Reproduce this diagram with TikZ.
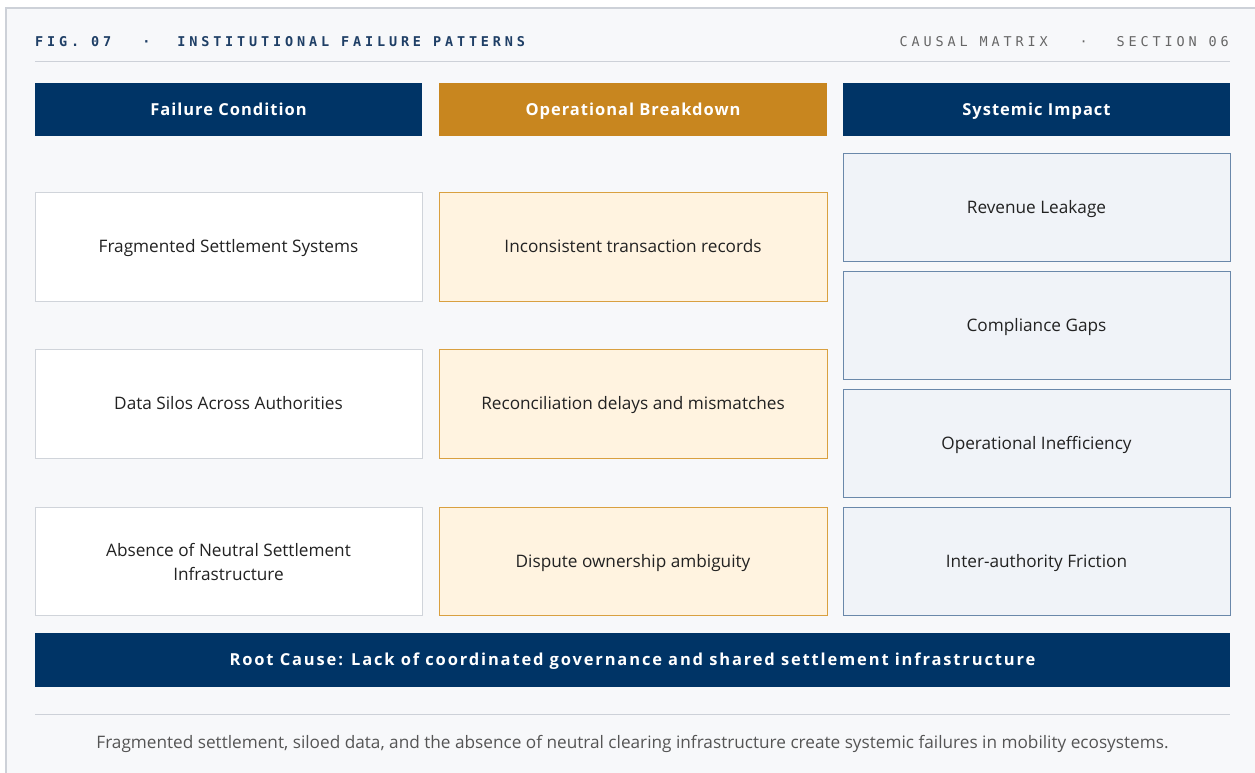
\documentclass[tikz,border=0pt]{standalone}
\usepackage{fontspec}
\setmainfont{Open Sans}
\newfontfamily\monob[LetterSpace=28.5]{DejaVu Sans Mono}
\newfontfamily\hdrfont[LetterSpace=6]{Open Sans}
\newfontfamily\rootfont[LetterSpace=11.2]{Open Sans}
\definecolor{navy}{RGB}{0,52,102}
\definecolor{gold}{RGB}{200,134,31}
\definecolor{bgc}{RGB}{247,248,250}
\definecolor{framec}{RGB}{205,209,216}
\definecolor{goldfill}{RGB}{255,243,224}
\definecolor{goldline}{RGB}{217,160,64}
\definecolor{bluefill}{RGB}{240,243,248}
\definecolor{blueline}{RGB}{106,136,170}
\definecolor{greyline}{RGB}{208,212,218}
\definecolor{txt}{RGB}{34,34,34}
\definecolor{titleblue}{RGB}{31,63,102}
\definecolor{subgrey}{RGB}{102,102,102}
\definecolor{footgrey}{RGB}{85,85,85}
\tikzset{
  hdrbox/.style={minimum height=53pt, inner sep=0pt, text=white, text height=11.8pt, text depth=0pt, font=\hdrfont\bfseries\fontsize{16.5}{18}\selectfont},
  cellbase/.style={draw, line width=1pt, minimum height=108pt, inner sep=0pt, text=txt, align=center, font=\fontsize{17.2}{24}\selectfont},
  cellbox/.style={cellbase, text height=12.3pt, text depth=0pt},
  failbox/.style={fill=white, draw=greyline, minimum width=387pt},
  opbox/.style={cellbox, fill=goldfill, draw=goldline, minimum width=388pt},
  impbox/.style={cellbox, fill=bluefill, draw=blueline, minimum width=387pt},
  rule/.style={draw=framec, line width=1pt}
}
\begin{document}
\begin{tikzpicture}[x=1pt,y=-1pt]
\useasboundingbox (0,0) rectangle (1255,773);
\fill[white] (0,0) rectangle (1255,773);
\draw[fill=bgc, draw=framec, line width=2pt] (6,8) rectangle (1262,782);
% title
\node[anchor=base west, inner sep=0pt, text=titleblue, font=\monob\bfseries\fontsize{13.5}{16}\selectfont] (title) at (35,47) {FIG. 07\ \ \hspace{7pt}·\ \ \hspace{3pt}INSTITUTIONAL FAILURE PATTERNS};
\node[anchor=base east, inner sep=0pt, text=subgrey, font=\monob\fontsize{13.5}{16}\selectfont] (section) at (1229,47) {CAUSAL MATRIX\ \ \hspace{8pt}·\ \ \hspace{5pt}SECTION 06};
\coordinate (r1a) at (35,62); \coordinate (r1b) at (1230,62);
\draw[rule] (r1a) -- (r1b);
% headers
\node[hdrbox, fill=navy, minimum width=387pt] (h1) at (228.5,109.5) {Failure Condition};
\node[hdrbox, fill=gold, minimum width=388pt] (h2) at (633,109.5) {Operational Breakdown};
\node[hdrbox, fill=navy, minimum width=387pt] (h3) at (1036.5,109.5) {Systemic Impact};
% column 1
\node[cellbox, failbox, minimum height=109pt] (f1) at (228.5,246.5) {Fragmented Settlement Systems};
\node[cellbox, failbox, minimum height=109pt] (f2) at (228.5,403.5) {Data Silos Across Authorities};
\node[cellbase, failbox] (f3) at (228.5,561.5) {Absence of Neutral Settlement\\Infrastructure};
% column 2
\node[opbox, minimum height=109pt] (o1) at (633,246.5) {Inconsistent transaction records};
\node[opbox, minimum height=109pt] (o2) at (633,403.5) {Reconciliation delays and mismatches};
\node[opbox] (o3) at (633,561) {Dispute ownership ambiguity};
% column 3
\node[impbox] (i1) at (1036.5,207) {Revenue Leakage};
\node[impbox] (i2) at (1036.5,325) {Compliance Gaps};
\node[impbox] (i3) at (1036.5,443) {Operational Inefficiency};
\node[impbox] (i4) at (1036.5,561) {Inter-authority Friction};
% root cause
\node[hdrbox, fill=navy, minimum width=1195pt, minimum height=54pt, font=\rootfont\bfseries\fontsize{16.5}{18}\selectfont] (root) at (632.5,660) {Root Cause: Lack of coordinated governance and shared settlement infrastructure};
% footer
\coordinate (r2a) at (35,714); \coordinate (r2b) at (1230,714);
\draw[rule] (r2a) -- (r2b);
\node[inner sep=0pt, text=footgrey, text height=12.3pt, text depth=0pt, font=\fontsize{17.2}{20}\selectfont] (foot) at (632.5,742) {Fragmented settlement, siloed data, and the absence of neutral clearing infrastructure create systemic failures in mobility ecosystems.};
\end{tikzpicture}
\end{document}
